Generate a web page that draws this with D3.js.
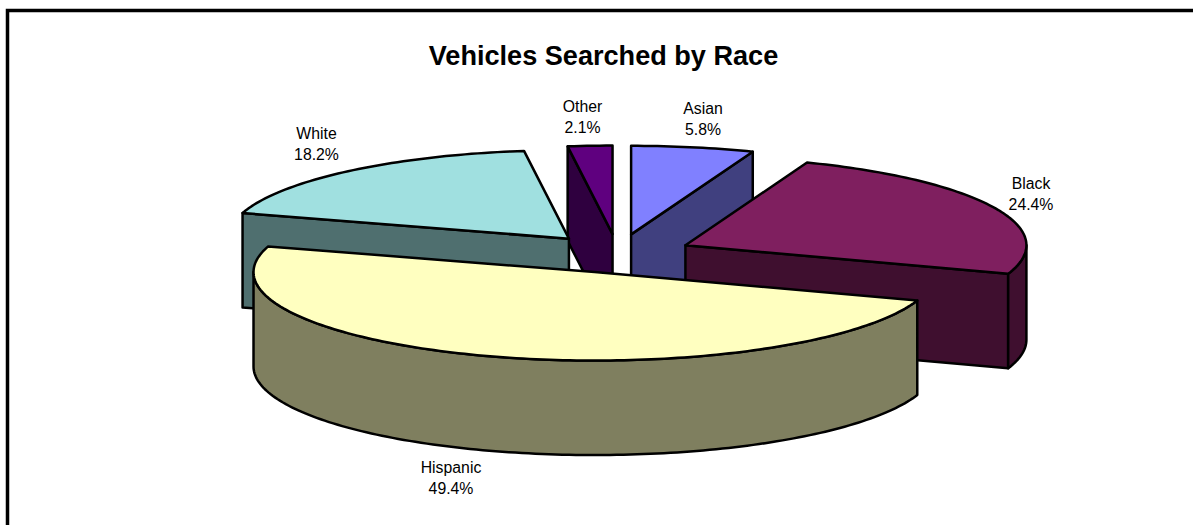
<!DOCTYPE html>
<html>
<head>
<meta charset="utf-8">
<script src="https://cdn.jsdelivr.net/npm/d3@7"></script>
<style>
  html, body { margin: 0; padding: 0; background: #fff; }
  svg { display: block; }
  text { font-family: "Liberation Sans", Arial, sans-serif; fill: #000; }
</style>
</head>
<body>
<div id="chart"></div>
<script>
// chart data
var categories = ["Asian", "Black", "Hispanic", "White", "Other"];
var shares = [5.8, 24.4, 49.4, 18.2, 2.1];
var topColors = ["#8080ff", "#7f1f5f", "#ffffc0", "#a0e0e0", "#5f007f"];
var sideColors = ["#40407f", "#3f0f2f", "#7f7f5f", "#4f6f6f", "#2f003f"];
var labelSpots = [[703, 119], [1031, 194], [451, 478], [316.5, 143.5], [582.5, 117]];

var width = 1193, height = 525;

// pie geometry
var cx = 617.5, cy = 253.5, rx = 341, ry = 88.5, depth = 94.5, explode = 0.22;

var svg = d3.select("#chart")
  .append("svg")
    .attr("width", width)
    .attr("height", height);

// frame, only top and left show
svg.append("path")
  .attr("d", "M7.5,525V10.5H1193")
  .attr("fill", "none")
  .attr("stroke", "#000")
  .attr("stroke-width", 3.5);

svg.append("text")
  .attr("x", 603.5)
  .attr("y", 65)
  .attr("text-anchor", "middle")
  .attr("font-size", 27.1)
  .attr("font-weight", "bold")
  .text("Vehicles Searched by Race");

var arcs = d3.pie().sort(null)(shares);

var line = d3.line();

// point on the rim of a slice, angle clockwise from the top
function rim(a, o, dy) {
  return [o[0] + rx * Math.sin(a), o[1] - ry * Math.cos(a) + dy];
}

// angles along an arc
function sweep(a0, a1) {
  var n = Math.max(2, Math.ceil((a1 - a0) / 0.02));
  return d3.range(n + 1).map(function(i) { return a0 + (a1 - a0) * i / n; });
}

var slices = arcs.map(function(d, i) {
  var mid = (d.startAngle + d.endAngle) / 2;
  return {
    i: i,
    a0: d.startAngle,
    a1: d.endAngle,
    o: [cx + explode * rx * Math.sin(mid), cy - explode * ry * Math.cos(mid)]
  };
});

// back slices first
slices.sort(function(a, b) { return a.o[1] - b.o[1]; });

var groups = svg.selectAll("g.slice")
  .data(slices)
  .enter()
  .append("g")
    .attr("class", "slice")
    .attr("stroke", "#000")
    .attr("stroke-width", 2.5)
    .attr("stroke-linejoin", "round");

groups.each(function(s) {
  var g = d3.select(this);
  var side = sideColors[s.i];

  // the two cut faces, only the one turned to the viewer shows
  [s.a0, s.a1].forEach(function(a, k) {
    var facing = k === 0 ? Math.sin(a) < 0 : Math.sin(a) > 0;
    if (!facing) return;
    var p = rim(a, s.o, 0), q = rim(a, s.o, depth);
    g.append("path")
      .attr("fill", side)
      .attr("d", line([s.o, p, q, [s.o[0], s.o[1] + depth]]) + "Z");
  });

  // outer wall, front half of the ellipse
  var lo = Math.max(s.a0, Math.PI / 2), hi = Math.min(s.a1, Math.PI * 3 / 2);
  if (hi > lo) {
    var angles = sweep(lo, hi);
    var upper = angles.map(function(a) { return rim(a, s.o, 0); });
    var lower = angles.map(function(a) { return rim(a, s.o, depth); }).reverse();
    g.append("path")
      .attr("fill", side)
      .attr("d", line(upper.concat(lower)) + "Z");
  }

  // top face
  var outline = sweep(s.a0, s.a1).map(function(a) { return rim(a, s.o, 0); });
  g.append("path")
    .attr("fill", topColors[s.i])
    .attr("d", line([s.o].concat(outline)) + "Z");
});

// data labels
var labels = svg.selectAll("text.label")
  .data(categories)
  .enter()
  .append("text")
    .attr("class", "label")
    .attr("text-anchor", "middle")
    .attr("font-size", 15.8)
    .attr("x", function(d, i) { return labelSpots[i][0]; })
    .attr("y", function(d, i) { return labelSpots[i][1] - 5; });

labels.append("tspan")
  .text(function(d) { return d; });

labels.append("tspan")
  .attr("x", function(d, i) { return labelSpots[i][0]; })
  .attr("dy", 21)
  .text(function(d, i) { return shares[i].toFixed(1) + "%"; });
</script>
</body>
</html>
